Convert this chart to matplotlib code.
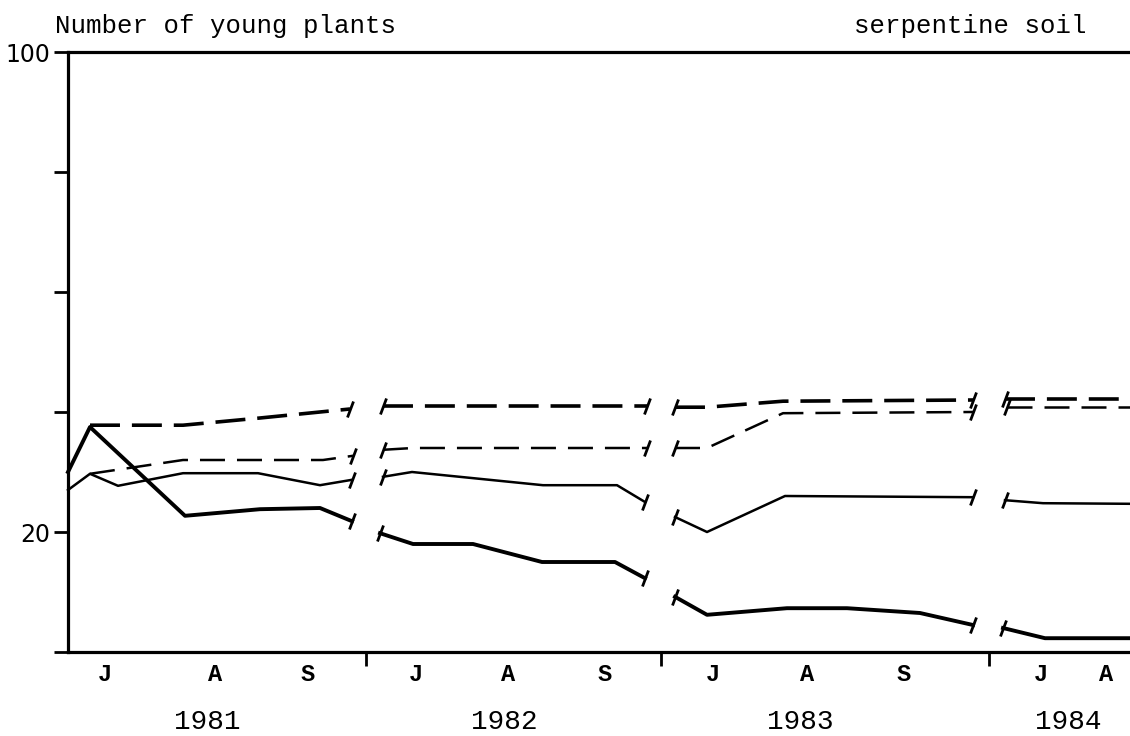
import matplotlib
matplotlib.use("Agg")
import matplotlib.pyplot as plt
from matplotlib.markers import MarkerStyle
from matplotlib.transforms import Affine2D, blended_transform_factory

# ------------------------------------------------------------
# Seedling counts on serpentine soil, summer seasons 1981-1984
# t = position along the (broken) season axis, one run per year
# ------------------------------------------------------------
thick_solid_t = [
    [0, 22, 117, 192, 252, 284],
    [312, 345, 405, 474, 547, 577],
    [607, 639, 719, 779, 852, 905],
    [935, 977, 1062],
]
thick_solid_n = [
    [30.0, 37.5, 22.7, 23.8, 24.0, 21.8],
    [19.8, 18.0, 18.0, 15.0, 15.0, 12.3],
    [9.2, 6.2, 7.3, 7.3, 6.5, 4.5],
    [4.0, 2.3, 2.3],
]

thin_solid_t = [
    [0, 22, 50, 115, 190, 252, 284],
    [315, 344, 475, 549, 577],
    [607, 639, 717, 905],
    [937, 975, 1062],
]
thin_solid_n = [
    [27.0, 29.7, 27.7, 29.8, 29.8, 27.8, 28.7],
    [29.2, 30.0, 27.8, 27.8, 25.0],
    [22.5, 20.0, 26.0, 25.8],
    [25.3, 24.8, 24.7],
]

thin_dash_t = [
    [22, 115, 255, 285],
    [315, 345, 579],
    [607, 639, 715, 905],
    [939, 1062],
]
thin_dash_n = [
    [29.7, 32.0, 32.0, 32.7],
    [33.7, 34.0, 34.0],
    [34.0, 34.0, 39.8, 40.0],
    [40.8, 40.8],
]

thick_dash_t = [
    [22, 115, 192, 282],
    [315, 579],
    [607, 639, 715, 905],
    [937, 1062],
]
thick_dash_n = [
    [37.8, 37.8, 39.0, 40.5],
    [41.0, 41.0],
    [40.8, 40.8, 41.8, 42.0],
    [42.2, 42.2],
]

month_labels = ["J", "A", "S", "J", "A", "S", "J", "A", "S", "J", "A"]
month_t = [37, 147, 240, 348, 440, 537, 645, 739, 836, 973, 1038]
years = ["1981", "1982", "1983", "1984"]
year_t = [139, 436, 732, 1000]
year_breaks = [298, 593, 921]

T_MAX = 1062
MONO = "Liberation Mono"

# slanted stroke drawn where each season's record is cut
break_mark = MarkerStyle("|", transform=Affine2D().rotate_deg(-22))

fig = plt.figure(figsize=(11.3, 7.36), dpi=100)
ax = fig.add_axes([68 / 1130, 84 / 736, 1 - 68 / 1130, 600 / 736])


def draw_series(ts, ns, lw, dashes=None):
    for k, (t, n) in enumerate(zip(ts, ns)):
        marks = []
        if k > 0:
            marks.append(0)
        if k < len(ts) - 1:
            marks.append(len(t) - 1)
        line, = ax.plot(t, n, color="black", lw=lw,
                        solid_joinstyle="round", dash_capstyle="butt",
                        clip_on=False)
        if dashes is not None:
            line.set_dashes(dashes)
        # break strokes, drawn solid
        ax.plot([t[i] for i in marks], [n[i] for i in marks],
                ls="none", marker=break_mark, markersize=13,
                markeredgewidth=2.0, color="black", clip_on=False)


draw_series(thick_solid_t, thick_solid_n, 2.8)
draw_series(thin_solid_t, thin_solid_n, 1.8)
draw_series(thin_dash_t, thin_dash_n, 1.8, dashes=(10, 4.8))
draw_series(thick_dash_t, thick_dash_n, 2.6, dashes=(8.3, 3.3))

ax.set_xlim(0, T_MAX)
ax.set_ylim(0, 100)

for side in ("left", "bottom", "top"):
    ax.spines[side].set_linewidth(2.3)
ax.spines["right"].set_visible(False)

ax.set_yticks([0, 20, 40, 60, 80, 100])
ax.set_yticklabels(["", "20", "", "", "", "100"],
                   fontsize=17, family="DejaVu Sans")
ax.tick_params(axis="y", length=10, width=2, pad=3)

ax.set_xticks(month_t)
ax.set_xticklabels(month_labels, fontsize=17, family=MONO, fontweight="bold")
ax.tick_params(axis="x", which="major", length=0, pad=8)
ax.set_xticks(year_breaks, minor=True)
ax.tick_params(axis="x", which="minor", length=10, width=2)

trans = blended_transform_factory(ax.transData, fig.transFigure)
for yr, t in zip(years, year_t):
    fig.text(t, 1 - 729 / 736, yr, transform=trans, ha="center",
             va="baseline", fontsize=20, family=MONO)

fig.text(55 / 1130, 1 - 33 / 736, "Number of young plants",
         fontsize=18.5, family=MONO, va="baseline")
fig.text(1087 / 1130, 1 - 33 / 736, "serpentine soil",
         fontsize=18.5, family=MONO, va="baseline", ha="right")

fig.savefig("out.png", dpi=100)
